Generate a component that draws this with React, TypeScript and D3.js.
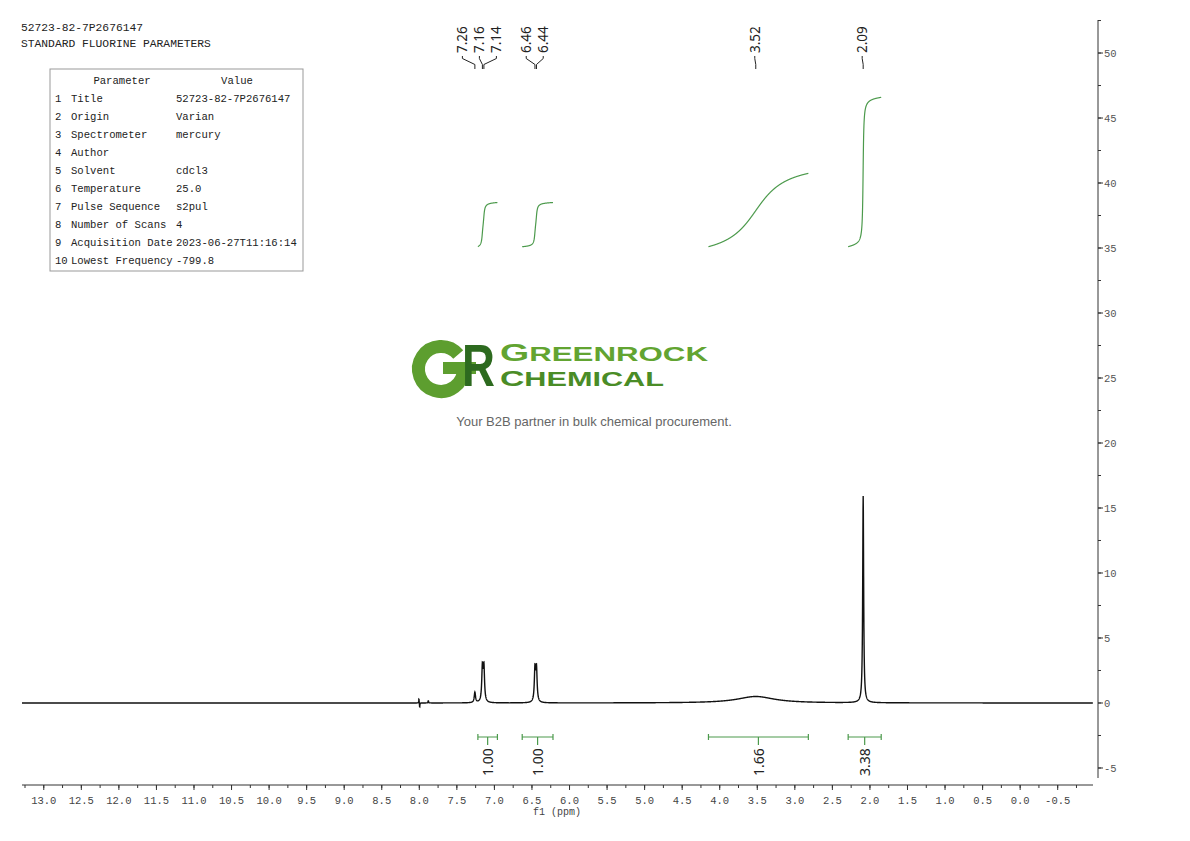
import React from 'react';
import * as d3 from 'd3';

// ---------- data ----------
const headerLines = ['52723-82-7P2676147', 'STANDARD FLUORINE PARAMETERS'];
const paramIndex = ['1', '2', '3', '4', '5', '6', '7', '8', '9', '10'];
const paramNames = ['Title', 'Origin', 'Spectrometer', 'Author', 'Solvent', 'Temperature', 'Pulse Sequence', 'Number of Scans', 'Acquisition Date', 'Lowest Frequency'];
const paramValues = ['52723-82-7P2676147', 'Varian', 'mercury', '', 'cdcl3', '25.0', 's2pul', '4', '2023-06-27T11:16:14', '-799.8'];

// spectrum peaks (ppm, height, FWHM ppm)
const peakShifts = [8.005, 7.995, 7.88, 7.26, 7.16, 7.14, 6.46, 6.44, 3.52, 2.09];
const peakHeights = [0.35, -0.35, 0.2, 0.8, 2.62, 2.62, 2.5, 2.5, 0.5, 15.9];
const peakWidths = [0.006, 0.006, 0.006, 0.02, 0.02, 0.02, 0.02, 0.02, 0.6, 0.015];

// peak picking labels
const peakLabels = ['7.26', '7.16', '7.14', '6.46', '6.44', '3.52', '2.09'];

// integrals
const integralStarts = [7.22, 6.63, 4.15, 2.29];
const integralEnds = [6.96, 6.22, 2.82, 1.85];
const integralValues = [1.0, 1.0, 1.66, 3.38];

// axes
const xDomain = [13.29, -0.97];
const yDomain = [-5.77, 52.54];
const xMajorTicks = d3.range(13.0, -0.51, -0.5);
const xMinorTicks = d3.range(13.25, -0.76, -0.25);
const yMajorTicks = d3.range(-5, 51, 5);
const yMinorTicks = d3.range(-5, 53, 2.5);

const mono = '"Liberation Mono", "DejaVu Sans Mono", monospace';
const sans = '"Noto Sans", "Open Sans", sans-serif';
const arial = '"Liberation Sans", Arial, sans-serif';
const green = '#4c9a4c';

export default function App() {
  const x = d3.scaleLinear().domain(xDomain).range([22, 1093]);
  const y = d3.scaleLinear().domain(yDomain).range([778, 20]);

  const spec = (p: number) => {
    let s = 0;
    for (let i = 0; i < peakShifts.length; i++) {
      const hw = peakWidths[i] / 2;
      const d = (p - peakShifts[i]) / hw;
      s += peakHeights[i] / (1 + d * d);
    }
    return s;
  };

  const step = 0.002;
  const specPts: [number, number][] = d3.range(xDomain[0], xDomain[1], -step).map((p) => [p, spec(p)]);
  const line = d3.line<[number, number]>().x((d) => x(d[0])).y((d) => y(d[1]));

  // integral curves
  const intBase = 35.1;
  const intScale = 3.4;
  const integralPaths = integralStarts.map((a, i) => {
    const b = integralEnds[i];
    const ps = d3.range(a, b - step / 2, -step);
    const vals = ps.map((p) => Math.max(spec(p), 0));
    const cum: number[] = [];
    let c = 0;
    vals.forEach((v) => { c += v; cum.push(c); });
    const total = c || 1;
    const pts: [number, number][] = ps.map((p, k) => [p, intBase + integralValues[i] * intScale * (cum[k] / total)]);
    return line(pts) as string;
  });

  // peak label layout (cluster by proximity)
  const labelTargets = peakLabels.map((t) => x(parseFloat(t)));
  const clusters: number[][] = [];
  labelTargets.forEach((tx, i) => {
    const last = clusters[clusters.length - 1];
    if (last && Math.abs(tx - labelTargets[last[last.length - 1]]) < 20) last.push(i);
    else clusters.push([i]);
  });
  const labelX: number[] = new Array(peakLabels.length).fill(0);
  const spacing = 17;
  clusters.forEach((cl) => {
    const mean = d3.mean(cl.map((i) => labelTargets[i])) as number;
    cl.forEach((i, k) => { labelX[i] = mean - 1 + (k - (cl.length - 1) / 2) * spacing; });
  });

  const ang = (-40 * Math.PI) / 180;

  return (
    <svg width={1190} height={841} style={{ position: 'absolute', left: 0, top: 0, background: '#fff' }}>
      {/* header */}
      {headerLines.map((t, i) => (
        <text key={t} x={21} y={31 + i * 16} fontFamily={mono} fontSize={11.3} fill="#222">{t}</text>
      ))}

      {/* parameter table */}
      <rect x={50} y={69} width={253} height={202} fill="#fff" stroke="#999" strokeWidth={1} />
      <text x={122} y={84} fontFamily={mono} fontSize={10.6} fill="#222" textAnchor="middle">Parameter</text>
      <text x={237} y={84} fontFamily={mono} fontSize={10.6} fill="#222" textAnchor="middle">Value</text>
      {paramNames.map((n, i) => (
        <g key={n} fontFamily={mono} fontSize={10.6} fill="#222">
          <text x={55} y={102 + i * 18}>{paramIndex[i]}</text>
          <text x={71} y={102 + i * 18}>{n}</text>
          <text x={176} y={102 + i * 18}>{paramValues[i]}</text>
        </g>
      ))}

      {/* logo */}
      <g>
        <path
          d={`M ${441 + 22.5 * Math.cos(ang)} ${369 + 22.5 * Math.sin(ang)} A 22.5 22.5 0 1 0 ${441 + 22.5} ${369}`}
          fill="none" stroke="#5d9e2f" strokeWidth={13}
        />
        <rect x={443} y={362} width={33} height={12} fill="#5d9e2f" />
        <text transform="translate(462,386) scale(0.76,1)" fontFamily={arial} fontWeight="bold" fontSize={60} fill="#2d6a1f">R</text>
        <text x={500} y={361} fontFamily={arial} fontWeight="bold" fill="#62a431" textLength={208} lengthAdjust="spacingAndGlyphs">
          <tspan fontSize={24}>G</tspan><tspan fontSize={20}>REENROCK</tspan>
        </text>
        <text x={500} y={386} fontFamily={arial} fontWeight="bold" fill="#4a8c27" textLength={164} lengthAdjust="spacingAndGlyphs">
          <tspan fontSize={22}>C</tspan><tspan fontSize={20}>HEMICAL</tspan>
        </text>
        <text x={594} y={426} fontFamily={arial} fontSize={13} fill="#666" textAnchor="middle">Your B2B partner in bulk chemical procurement.</text>
      </g>

      {/* peak labels */}
      {peakLabels.map((t, i) => {
        const lx = labelX[i];
        const tx = labelTargets[i];
        return (
          <g key={t}>
            <text transform={`translate(${lx},53) rotate(-90)`} fontFamily={sans} fontSize={13.5} fill="#222" dominantBaseline="central">{t}</text>
            <path d={`M ${lx} 56 L ${lx} 58.5 L ${tx} 64.5 L ${tx} 69`} fill="none" stroke="#222" strokeWidth={1} />
          </g>
        );
      })}

      {/* integral curves */}
      {integralPaths.map((d, i) => (
        <path key={i} d={d} fill="none" stroke={green} strokeWidth={1.2} />
      ))}

      {/* spectrum */}
      <path d={line(specPts) as string} fill="none" stroke="#111" strokeWidth={1.4} />

      {/* integral brackets */}
      {integralStarts.map((a, i) => {
        const x1 = x(a);
        const x2 = x(integralEnds[i]);
        const cx = (x1 + x2) / 2;
        return (
          <g key={i}>
            <path d={`M ${x1} 737 L ${x2} 737 M ${x1} 734 L ${x1} 740 M ${x2} 734 L ${x2} 740 M ${cx} 737 L ${cx} 745`} stroke={green} strokeWidth={1.2} fill="none" />
            <text transform={`translate(${cx},776) rotate(-90)`} fontFamily={sans} fontSize={14} fill="#222" dominantBaseline="central">{integralValues[i].toFixed(2)}</text>
          </g>
        );
      })}

      {/* x axis */}
      <line x1={22} x2={1093} y1={785} y2={785} stroke="#333" strokeWidth={1} />
      {xMinorTicks.map((t) => (
        <line key={'xm' + t} x1={x(t)} x2={x(t)} y1={785} y2={788} stroke="#333" strokeWidth={1} />
      ))}
      {xMajorTicks.map((t) => (
        <g key={'xM' + t}>
          <line x1={x(t)} x2={x(t)} y1={785} y2={790} stroke="#333" strokeWidth={1} />
          <text x={x(t)} y={804} fontFamily={mono} fontSize={10.5} fill="#444" textAnchor="middle">{t.toFixed(1)}</text>
        </g>
      ))}
      <text x={557} y={815} fontFamily={mono} fontSize={10} fill="#444" textAnchor="middle">f1 (ppm)</text>

      {/* y axis */}
      <line x1={1098} x2={1098} y1={20} y2={778} stroke="#333" strokeWidth={1} />
      {yMinorTicks.map((t) => (
        <line key={'ym' + t} x1={1098} x2={1101} y1={y(t)} y2={y(t)} stroke="#333" strokeWidth={1} />
      ))}
      {yMajorTicks.map((t) => (
        <g key={'yM' + t}>
          <line x1={1098} x2={1103} y1={y(t)} y2={y(t)} stroke="#333" strokeWidth={1} />
          <text x={1104} y={y(t) + 4} fontFamily={mono} fontSize={10.5} fill="#555">{String(t)}</text>
        </g>
      ))}
    </svg>
  );
}
